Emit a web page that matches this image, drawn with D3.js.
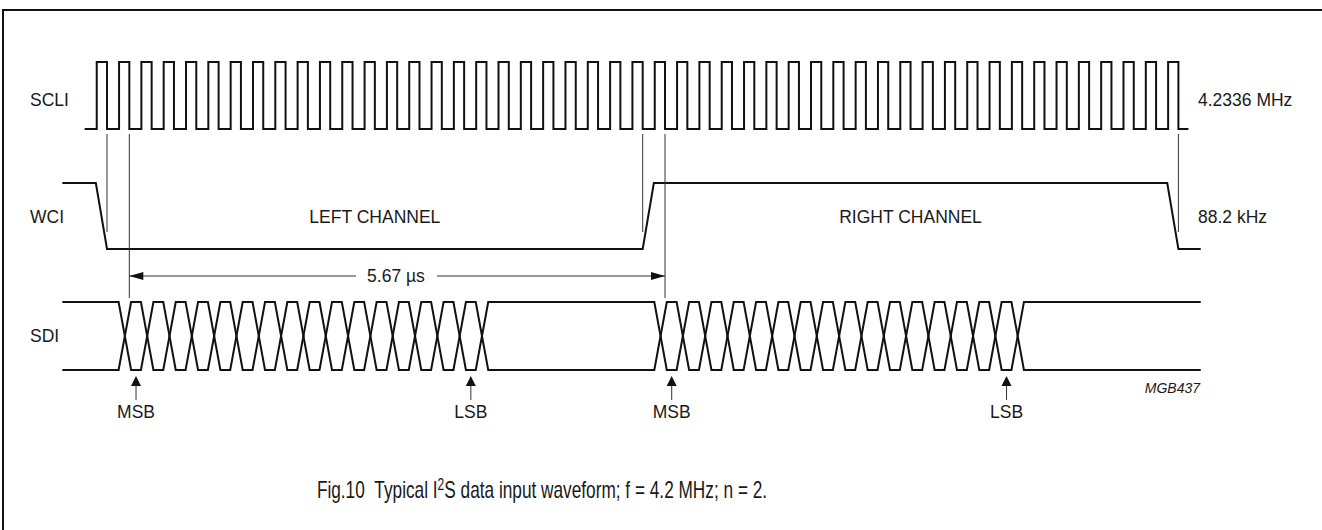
<!DOCTYPE html>
<html>
<head>
  <meta charset="utf-8">
  <title>I2S input waveform</title>
  <script src="https://d3js.org/d3.v7.min.js"></script>
  <style>
    html, body { margin: 0; background: #fff; overflow: hidden; }
    svg { display: block; }
    text { font-family: "Liberation Sans", Arial, sans-serif; fill: #1a1a1a; }
    .wave { fill: none; stroke: #111; stroke-width: 2; stroke-linejoin: miter; }
    .guide { stroke: #333; stroke-width: 1; }
    .frame { stroke: #111; stroke-width: 2; fill: none; }
  </style>
</head>
<body>
<svg id="chart"></svg>
<script>
// signal names and the frequencies written on the right
var signals = ["SCLI", "WCI", "SDI"];
var freqLabels = ["4.2336 MHz", "88.2 kHz"];
var channels = ["LEFT CHANNEL", "RIGHT CHANNEL"];

// timing in clock cycles (falling edges of SCLI, 48 per frame)
var clockCycles = 48;
var wsEdges = [0, 24, 48];          // WCI changes level
var msbCycle = [1, 25];             // first data cross of each word
var lsbCycle = [16, 40];            // last bit of each word starts here
var markers = ["MSB", "LSB", "MSB", "LSB"];
var guideCycles = [0, 1, 24, 25, 48];
var guideLong = [false, true, false, true, false];
var periodLabel = "5.67 \u00b5s";
var figId = "MGB437";

var W = 1322, H = 530;
var svg = d3.select("#chart").attr("width", W).attr("height", H);

// frame (top and left edges only visible)
svg.append("path").attr("class", "frame").attr("d", "M3,531 L3,10 L1323,10");

var x = d3.scaleLinear().domain([0, clockCycles]).range([107, 1178.4]);
var yClk = d3.scaleLinear().domain([0, 1]).range([129, 62]);
var yWs = d3.scaleLinear().domain([0, 1]).range([249, 183]);
var ySd = d3.scaleLinear().domain([0, 1]).range([370, 302]);

// SCLI clock
var clk = d3.path();
clk.moveTo(x(-1), yClk(0));
d3.range(0, clockCycles + 1).forEach(function (t) {
  clk.lineTo(x(t - 0.46), yClk(0));
  clk.lineTo(x(t - 0.46), yClk(1));
  clk.lineTo(x(t), yClk(1));
  clk.lineTo(x(t), yClk(0));
});
clk.lineTo(x(clockCycles + 0.45), yClk(0));
svg.append("path").attr("class", "wave").attr("d", clk.toString());

// WCI word select
var ws = d3.path();
ws.moveTo(x(-2), yWs(1));
ws.lineTo(x(wsEdges[0] - 0.5), yWs(1));
ws.lineTo(x(wsEdges[0]), yWs(0));
ws.lineTo(x(wsEdges[1]), yWs(0));
ws.lineTo(x(wsEdges[1] + 0.5), yWs(1));
ws.lineTo(x(wsEdges[2] - 0.5), yWs(1));
ws.lineTo(x(wsEdges[2]), yWs(0));
ws.lineTo(x(wsEdges[2] + 1), yWs(0));
svg.append("path").attr("class", "wave").attr("d", ws.toString());

// SDI data: crosses a bit before each falling clock edge
var shift = -0.2, half = 0.28;
var crosses = [];
msbCycle.forEach(function (m, i) {
  d3.range(m, lsbCycle[i] + 2).forEach(function (t) { crosses.push(t + shift); });
});
[0, 1].forEach(function (start) {
  var p = d3.path(), lvl = start;
  p.moveTo(x(-2), ySd(lvl));
  crosses.forEach(function (c) {
    p.lineTo(x(c - half), ySd(lvl));
    lvl = 1 - lvl;
    p.lineTo(x(c + half), ySd(lvl));
  });
  p.lineTo(x(clockCycles + 1), ySd(lvl));
  svg.append("path").attr("class", "wave").attr("d", p.toString());
});

// vertical guide lines from the clock edges
svg.selectAll(".guide").data(guideCycles).enter().append("line")
  .attr("class", "guide")
  .attr("x1", function (d) { return x(d); })
  .attr("x2", function (d) { return x(d); })
  .attr("y1", yClk(0) + 5)
  .attr("y2", function (d, i) { return guideLong[i] ? ySd(1) - 4 : yWs(0) - 17; });

// period dimension arrow
var ay = 276, ax1 = x(guideCycles[1]), ax2 = x(guideCycles[3]), gap = [356, 437];
svg.append("line").attr("class", "guide").attr("x1", ax1).attr("x2", gap[0]).attr("y1", ay).attr("y2", ay);
svg.append("line").attr("class", "guide").attr("x1", gap[1]).attr("x2", ax2).attr("y1", ay).attr("y2", ay);
svg.append("path").attr("fill", "#111")
  .attr("d", "M" + ax1 + "," + ay + "l14,-4l0,8z M" + ax2 + "," + ay + "l-14,-4l0,8z");
svg.append("text").attr("x", 396).attr("y", 282).attr("text-anchor", "middle")
  .style("font-size", "17.5px").text(periodLabel);

// MSB / LSB markers
var markCycles = [msbCycle[0] + 0.5 + shift, lsbCycle[0] + 0.5 + shift,
                  msbCycle[1] + 0.5 + shift, lsbCycle[1] + 0.5 + shift];
var mk = svg.selectAll(".mark").data(markCycles).enter().append("g").attr("class", "mark")
  .attr("transform", function (d) { return "translate(" + x(d) + ",0)"; });
mk.append("line").attr("class", "guide").attr("y1", 384).attr("y2", 400);
mk.append("path").attr("fill", "#111").attr("d", "M0,376l-5,10l10,0z");
mk.append("text").attr("y", 418).attr("text-anchor", "middle")
  .style("font-size", "17.5px").text(function (d, i) { return markers[i]; });

// signal names on the left
var rowBase = [106, 223, 342];
svg.selectAll(".sig").data(signals).enter().append("text")
  .attr("x", 30).attr("y", function (d, i) { return rowBase[i]; })
  .style("font-size", "17.5px").text(function (d) { return d; });

// frequencies on the right
svg.selectAll(".freq").data(freqLabels).enter().append("text")
  .attr("x", 1198).attr("y", function (d, i) { return rowBase[i]; })
  .style("font-size", "17.5px").text(function (d) { return d; });

// channel names
var chMid = [(x(wsEdges[0]) + x(wsEdges[1])) / 2, (x(wsEdges[1]) + x(wsEdges[2])) / 2];
svg.selectAll(".ch").data(channels).enter().append("text")
  .attr("x", function (d, i) { return chMid[i]; }).attr("y", rowBase[1])
  .attr("text-anchor", "middle").style("font-size", "17.5px").text(function (d) { return d; });

svg.append("text").attr("x", 1200).attr("y", 393).attr("text-anchor", "end")
  .style("font-size", "14px").style("font-style", "italic").text(figId);

// caption (narrow face)
var cap = svg.append("g").attr("transform", "translate(542,498) scale(0.75,1)")
  .append("text").attr("text-anchor", "middle").style("font-size", "23px");
cap.append("tspan").text("Fig.10\u00a0\u00a0Typical I");
cap.append("tspan").attr("dy", -8).style("font-size", "16px").text("2");
cap.append("tspan").attr("dy", 8).text("S data input waveform; f = 4.2 MHz; n = 2.");
</script>
</body>
</html>
